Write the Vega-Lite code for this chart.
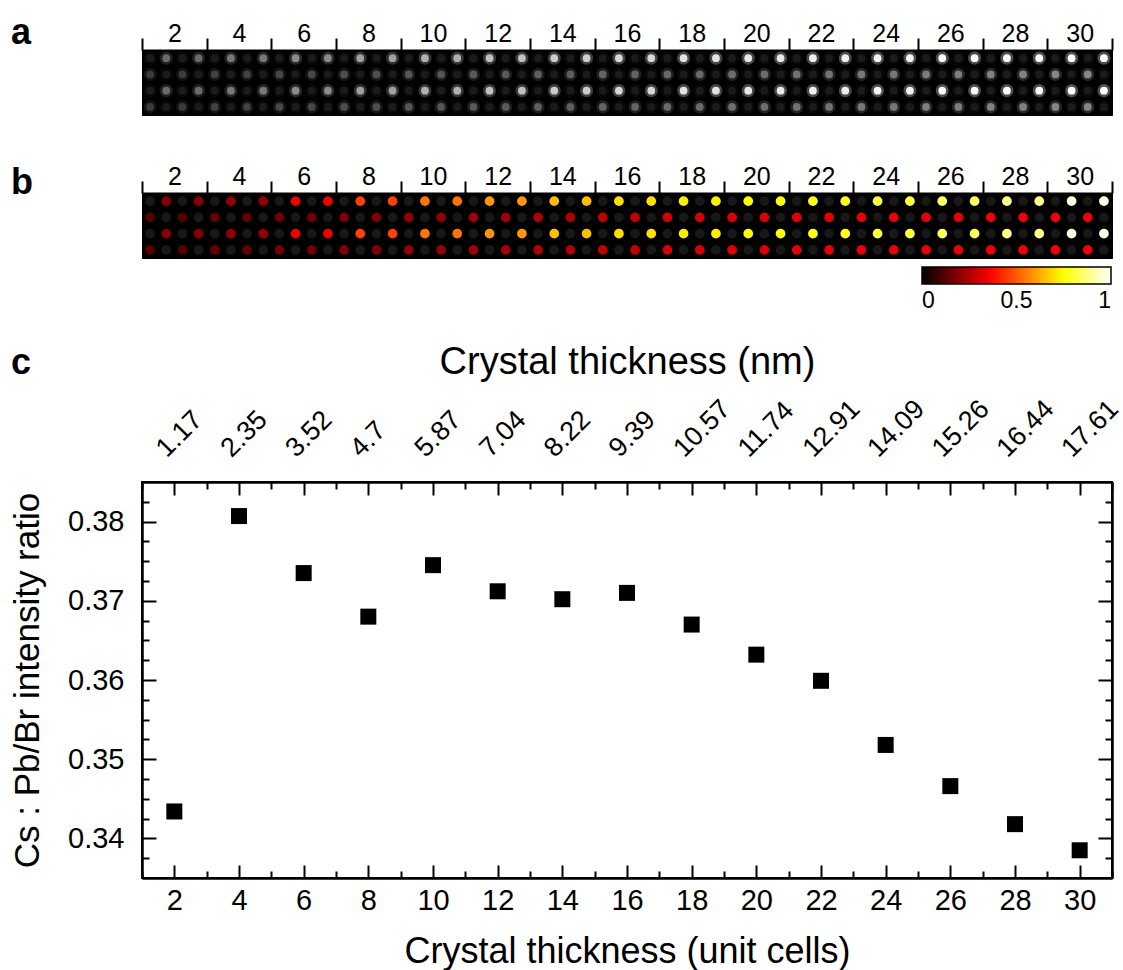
{
"$schema": "https://vega.github.io/schema/vega-lite/v6.json",
"padding": {"left": 9, "top": 14, "right": 5, "bottom": 5},
"background": "white",
"bounds": "flush",
"spacing": 78,
"config": {
  "font": "Liberation Sans",
  "view": {"stroke": null},
  "axis": {"domainColor": "black", "domainWidth": 2, "tickColor": "black", "tickWidth": 2, "labelColor": "black", "titleColor": "black", "grid": false, "labelFont": "Liberation Sans", "titleFont": "Liberation Sans", "titleFontWeight": "normal", "labelFlush": false, "labelOverlap": false},
  "title": {"font": "Liberation Sans", "fontSize": 36, "fontWeight": "bold", "anchor": "start", "frame": "group", "color": "black", "offset": 0},
  "legend": {"labelFont": "Liberation Sans"}
},
"resolve": {"scale": {"color": "independent"}, "legend": {"color": "independent"}},
"datasets": {
"ratio": [
{"n":2,"r":0.3434},{"n":4,"r":0.3807},{"n":6,"r":0.3735},{"n":8,"r":0.3680},{"n":10,"r":0.3745},{"n":12,"r":0.3712},{"n":14,"r":0.3702},{"n":16,"r":0.3710},{"n":18,"r":0.3670},{"n":20,"r":0.3632},{"n":22,"r":0.3599},{"n":24,"r":0.3518},{"n":26,"r":0.3466},{"n":28,"r":0.3418},{"n":30,"r":0.3385}
],
"strip": [
{"x":1.25,"y":1,"t":"D","a":0.1},{"x":1.75,"y":1,"t":"P","a":0.45,"b":0.19},{"x":2.25,"y":1,"t":"D","a":0.1},{"x":2.75,"y":1,"t":"P","a":0.45,"b":0.19},
{"x":1.25,"y":2,"t":"C","a":0.25,"b":0.12},{"x":1.75,"y":2,"t":"D","a":0.1},{"x":2.25,"y":2,"t":"C","a":0.25,"b":0.12},{"x":2.75,"y":2,"t":"D","a":0.1},
{"x":1.25,"y":3,"t":"D","a":0.1},{"x":1.75,"y":3,"t":"P","a":0.45,"b":0.19},{"x":2.25,"y":3,"t":"D","a":0.1},{"x":2.75,"y":3,"t":"P","a":0.45,"b":0.19},
{"x":1.25,"y":4,"t":"C","a":0.25,"b":0.12},{"x":1.75,"y":4,"t":"D","a":0.1},{"x":2.25,"y":4,"t":"C","a":0.25,"b":0.12},{"x":2.75,"y":4,"t":"D","a":0.1},

{"x":3.25,"y":1,"t":"D","a":0.1},{"x":3.75,"y":1,"t":"P","a":0.5,"b":0.21},{"x":4.25,"y":1,"t":"D","a":0.1},{"x":4.75,"y":1,"t":"P","a":0.5,"b":0.21},
{"x":3.25,"y":2,"t":"C","a":0.28,"b":0.14},{"x":3.75,"y":2,"t":"D","a":0.1},{"x":4.25,"y":2,"t":"C","a":0.28,"b":0.14},{"x":4.75,"y":2,"t":"D","a":0.1},
{"x":3.25,"y":3,"t":"D","a":0.1},{"x":3.75,"y":3,"t":"P","a":0.5,"b":0.21},{"x":4.25,"y":3,"t":"D","a":0.1},{"x":4.75,"y":3,"t":"P","a":0.5,"b":0.21},
{"x":3.25,"y":4,"t":"C","a":0.28,"b":0.14},{"x":3.75,"y":4,"t":"D","a":0.1},{"x":4.25,"y":4,"t":"C","a":0.28,"b":0.14},{"x":4.75,"y":4,"t":"D","a":0.1},

{"x":5.25,"y":1,"t":"D","a":0.1},{"x":5.75,"y":1,"t":"P","a":0.58,"b":0.34},{"x":6.25,"y":1,"t":"D","a":0.1},{"x":6.75,"y":1,"t":"P","a":0.58,"b":0.34},
{"x":5.25,"y":2,"t":"C","a":0.3,"b":0.16},{"x":5.75,"y":2,"t":"D","a":0.1},{"x":6.25,"y":2,"t":"C","a":0.3,"b":0.16},{"x":6.75,"y":2,"t":"D","a":0.1},
{"x":5.25,"y":3,"t":"D","a":0.1},{"x":5.75,"y":3,"t":"P","a":0.58,"b":0.34},{"x":6.25,"y":3,"t":"D","a":0.1},{"x":6.75,"y":3,"t":"P","a":0.58,"b":0.34},
{"x":5.25,"y":4,"t":"C","a":0.3,"b":0.16},{"x":5.75,"y":4,"t":"D","a":0.1},{"x":6.25,"y":4,"t":"C","a":0.3,"b":0.16},{"x":6.75,"y":4,"t":"D","a":0.1},

{"x":7.25,"y":1,"t":"D","a":0.1},{"x":7.75,"y":1,"t":"P","a":0.66,"b":0.46},{"x":8.25,"y":1,"t":"D","a":0.1},{"x":8.75,"y":1,"t":"P","a":0.66,"b":0.46},
{"x":7.25,"y":2,"t":"C","a":0.33,"b":0.18},{"x":7.75,"y":2,"t":"D","a":0.1},{"x":8.25,"y":2,"t":"C","a":0.33,"b":0.18},{"x":8.75,"y":2,"t":"D","a":0.1},
{"x":7.25,"y":3,"t":"D","a":0.1},{"x":7.75,"y":3,"t":"P","a":0.66,"b":0.46},{"x":8.25,"y":3,"t":"D","a":0.1},{"x":8.75,"y":3,"t":"P","a":0.66,"b":0.46},
{"x":7.25,"y":4,"t":"C","a":0.33,"b":0.18},{"x":7.75,"y":4,"t":"D","a":0.1},{"x":8.25,"y":4,"t":"C","a":0.33,"b":0.18},{"x":8.75,"y":4,"t":"D","a":0.1},

{"x":9.25,"y":1,"t":"D","a":0.1},{"x":9.75,"y":1,"t":"P","a":0.72,"b":0.54},{"x":10.25,"y":1,"t":"D","a":0.1},{"x":10.75,"y":1,"t":"P","a":0.72,"b":0.54},
{"x":9.25,"y":2,"t":"C","a":0.36,"b":0.21},{"x":9.75,"y":2,"t":"D","a":0.1},{"x":10.25,"y":2,"t":"C","a":0.36,"b":0.21},{"x":10.75,"y":2,"t":"D","a":0.1},
{"x":9.25,"y":3,"t":"D","a":0.1},{"x":9.75,"y":3,"t":"P","a":0.72,"b":0.54},{"x":10.25,"y":3,"t":"D","a":0.1},{"x":10.75,"y":3,"t":"P","a":0.72,"b":0.54},
{"x":9.25,"y":4,"t":"C","a":0.36,"b":0.21},{"x":9.75,"y":4,"t":"D","a":0.1},{"x":10.25,"y":4,"t":"C","a":0.36,"b":0.21},{"x":10.75,"y":4,"t":"D","a":0.1},

{"x":11.25,"y":1,"t":"D","a":0.1},{"x":11.75,"y":1,"t":"P","a":0.78,"b":0.59},{"x":12.25,"y":1,"t":"D","a":0.1},{"x":12.75,"y":1,"t":"P","a":0.78,"b":0.59},
{"x":11.25,"y":2,"t":"C","a":0.38,"b":0.23},{"x":11.75,"y":2,"t":"D","a":0.1},{"x":12.25,"y":2,"t":"C","a":0.38,"b":0.23},{"x":12.75,"y":2,"t":"D","a":0.1},
{"x":11.25,"y":3,"t":"D","a":0.1},{"x":11.75,"y":3,"t":"P","a":0.78,"b":0.59},{"x":12.25,"y":3,"t":"D","a":0.1},{"x":12.75,"y":3,"t":"P","a":0.78,"b":0.59},
{"x":11.25,"y":4,"t":"C","a":0.38,"b":0.23},{"x":11.75,"y":4,"t":"D","a":0.1},{"x":12.25,"y":4,"t":"C","a":0.38,"b":0.23},{"x":12.75,"y":4,"t":"D","a":0.1},

{"x":13.25,"y":1,"t":"D","a":0.1},{"x":13.75,"y":1,"t":"P","a":0.82,"b":0.65},{"x":14.25,"y":1,"t":"D","a":0.1},{"x":14.75,"y":1,"t":"P","a":0.82,"b":0.65},
{"x":13.25,"y":2,"t":"C","a":0.4,"b":0.25},{"x":13.75,"y":2,"t":"D","a":0.1},{"x":14.25,"y":2,"t":"C","a":0.4,"b":0.25},{"x":14.75,"y":2,"t":"D","a":0.1},
{"x":13.25,"y":3,"t":"D","a":0.1},{"x":13.75,"y":3,"t":"P","a":0.82,"b":0.65},{"x":14.25,"y":3,"t":"D","a":0.1},{"x":14.75,"y":3,"t":"P","a":0.82,"b":0.65},
{"x":13.25,"y":4,"t":"C","a":0.4,"b":0.25},{"x":13.75,"y":4,"t":"D","a":0.1},{"x":14.25,"y":4,"t":"C","a":0.4,"b":0.25},{"x":14.75,"y":4,"t":"D","a":0.1},

{"x":15.25,"y":1,"t":"D","a":0.1},{"x":15.75,"y":1,"t":"P","a":0.86,"b":0.7},{"x":16.25,"y":1,"t":"D","a":0.1},{"x":16.75,"y":1,"t":"P","a":0.86,"b":0.7},
{"x":15.25,"y":2,"t":"C","a":0.42,"b":0.27},{"x":15.75,"y":2,"t":"D","a":0.1},{"x":16.25,"y":2,"t":"C","a":0.42,"b":0.27},{"x":16.75,"y":2,"t":"D","a":0.1},
{"x":15.25,"y":3,"t":"D","a":0.1},{"x":15.75,"y":3,"t":"P","a":0.86,"b":0.7},{"x":16.25,"y":3,"t":"D","a":0.1},{"x":16.75,"y":3,"t":"P","a":0.86,"b":0.7},
{"x":15.25,"y":4,"t":"C","a":0.42,"b":0.27},{"x":15.75,"y":4,"t":"D","a":0.1},{"x":16.25,"y":4,"t":"C","a":0.42,"b":0.27},{"x":16.75,"y":4,"t":"D","a":0.1},

{"x":17.25,"y":1,"t":"D","a":0.1},{"x":17.75,"y":1,"t":"P","a":0.9,"b":0.72},{"x":18.25,"y":1,"t":"D","a":0.1},{"x":18.75,"y":1,"t":"P","a":0.9,"b":0.72},
{"x":17.25,"y":2,"t":"C","a":0.44,"b":0.3},{"x":17.75,"y":2,"t":"D","a":0.1},{"x":18.25,"y":2,"t":"C","a":0.44,"b":0.3},{"x":18.75,"y":2,"t":"D","a":0.1},
{"x":17.25,"y":3,"t":"D","a":0.1},{"x":17.75,"y":3,"t":"P","a":0.9,"b":0.72},{"x":18.25,"y":3,"t":"D","a":0.1},{"x":18.75,"y":3,"t":"P","a":0.9,"b":0.72},
{"x":17.25,"y":4,"t":"C","a":0.44,"b":0.3},{"x":17.75,"y":4,"t":"D","a":0.1},{"x":18.25,"y":4,"t":"C","a":0.44,"b":0.3},{"x":18.75,"y":4,"t":"D","a":0.1},

{"x":19.25,"y":1,"t":"D","a":0.1},{"x":19.75,"y":1,"t":"P","a":0.92,"b":0.75},{"x":20.25,"y":1,"t":"D","a":0.1},{"x":20.75,"y":1,"t":"P","a":0.92,"b":0.75},
{"x":19.25,"y":2,"t":"C","a":0.46,"b":0.31},{"x":19.75,"y":2,"t":"D","a":0.1},{"x":20.25,"y":2,"t":"C","a":0.46,"b":0.31},{"x":20.75,"y":2,"t":"D","a":0.1},
{"x":19.25,"y":3,"t":"D","a":0.1},{"x":19.75,"y":3,"t":"P","a":0.92,"b":0.75},{"x":20.25,"y":3,"t":"D","a":0.1},{"x":20.75,"y":3,"t":"P","a":0.92,"b":0.75},
{"x":19.25,"y":4,"t":"C","a":0.46,"b":0.31},{"x":19.75,"y":4,"t":"D","a":0.1},{"x":20.25,"y":4,"t":"C","a":0.46,"b":0.31},{"x":20.75,"y":4,"t":"D","a":0.1},

{"x":21.25,"y":1,"t":"D","a":0.1},{"x":21.75,"y":1,"t":"P","a":0.94,"b":0.77},{"x":22.25,"y":1,"t":"D","a":0.1},{"x":22.75,"y":1,"t":"P","a":0.94,"b":0.77},
{"x":21.25,"y":2,"t":"C","a":0.48,"b":0.32},{"x":21.75,"y":2,"t":"D","a":0.1},{"x":22.25,"y":2,"t":"C","a":0.48,"b":0.32},{"x":22.75,"y":2,"t":"D","a":0.1},
{"x":21.25,"y":3,"t":"D","a":0.1},{"x":21.75,"y":3,"t":"P","a":0.94,"b":0.77},{"x":22.25,"y":3,"t":"D","a":0.1},{"x":22.75,"y":3,"t":"P","a":0.94,"b":0.77},
{"x":21.25,"y":4,"t":"C","a":0.48,"b":0.32},{"x":21.75,"y":4,"t":"D","a":0.1},{"x":22.25,"y":4,"t":"C","a":0.48,"b":0.32},{"x":22.75,"y":4,"t":"D","a":0.1},

{"x":23.25,"y":1,"t":"D","a":0.1},{"x":23.75,"y":1,"t":"P","a":0.96,"b":0.81},{"x":24.25,"y":1,"t":"D","a":0.1},{"x":24.75,"y":1,"t":"P","a":0.96,"b":0.81},
{"x":23.25,"y":2,"t":"C","a":0.5,"b":0.33},{"x":23.75,"y":2,"t":"D","a":0.1},{"x":24.25,"y":2,"t":"C","a":0.5,"b":0.33},{"x":24.75,"y":2,"t":"D","a":0.1},
{"x":23.25,"y":3,"t":"D","a":0.1},{"x":23.75,"y":3,"t":"P","a":0.96,"b":0.81},{"x":24.25,"y":3,"t":"D","a":0.1},{"x":24.75,"y":3,"t":"P","a":0.96,"b":0.81},
{"x":23.25,"y":4,"t":"C","a":0.5,"b":0.33},{"x":23.75,"y":4,"t":"D","a":0.1},{"x":24.25,"y":4,"t":"C","a":0.5,"b":0.33},{"x":24.75,"y":4,"t":"D","a":0.1},

{"x":25.25,"y":1,"t":"D","a":0.1},{"x":25.75,"y":1,"t":"P","a":0.98,"b":0.84},{"x":26.25,"y":1,"t":"D","a":0.1},{"x":26.75,"y":1,"t":"P","a":0.98,"b":0.84},
{"x":25.25,"y":2,"t":"C","a":0.52,"b":0.33},{"x":25.75,"y":2,"t":"D","a":0.1},{"x":26.25,"y":2,"t":"C","a":0.52,"b":0.33},{"x":26.75,"y":2,"t":"D","a":0.1},
{"x":25.25,"y":3,"t":"D","a":0.1},{"x":25.75,"y":3,"t":"P","a":0.98,"b":0.84},{"x":26.25,"y":3,"t":"D","a":0.1},{"x":26.75,"y":3,"t":"P","a":0.98,"b":0.84},
{"x":25.25,"y":4,"t":"C","a":0.52,"b":0.33},{"x":25.75,"y":4,"t":"D","a":0.1},{"x":26.25,"y":4,"t":"C","a":0.52,"b":0.33},{"x":26.75,"y":4,"t":"D","a":0.1},

{"x":27.25,"y":1,"t":"D","a":0.1},{"x":27.75,"y":1,"t":"P","a":0.99,"b":0.88},{"x":28.25,"y":1,"t":"D","a":0.1},{"x":28.75,"y":1,"t":"P","a":0.99,"b":0.88},
{"x":27.25,"y":2,"t":"C","a":0.54,"b":0.34},{"x":27.75,"y":2,"t":"D","a":0.1},{"x":28.25,"y":2,"t":"C","a":0.54,"b":0.34},{"x":28.75,"y":2,"t":"D","a":0.1},
{"x":27.25,"y":3,"t":"D","a":0.1},{"x":27.75,"y":3,"t":"P","a":0.99,"b":0.88},{"x":28.25,"y":3,"t":"D","a":0.1},{"x":28.75,"y":3,"t":"P","a":0.99,"b":0.88},
{"x":27.25,"y":4,"t":"C","a":0.54,"b":0.34},{"x":27.75,"y":4,"t":"D","a":0.1},{"x":28.25,"y":4,"t":"C","a":0.54,"b":0.34},{"x":28.75,"y":4,"t":"D","a":0.1},

{"x":29.25,"y":1,"t":"D","a":0.1},{"x":29.75,"y":1,"t":"P","a":1.0,"b":0.97},{"x":30.25,"y":1,"t":"D","a":0.1},{"x":30.75,"y":1,"t":"P","a":1.0,"b":0.97},
{"x":29.25,"y":2,"t":"C","a":0.56,"b":0.34},{"x":29.75,"y":2,"t":"D","a":0.1},{"x":30.25,"y":2,"t":"C","a":0.56,"b":0.34},{"x":30.75,"y":2,"t":"D","a":0.1},
{"x":29.25,"y":3,"t":"D","a":0.1},{"x":29.75,"y":3,"t":"P","a":1.0,"b":0.97},{"x":30.25,"y":3,"t":"D","a":0.1},{"x":30.75,"y":3,"t":"P","a":1.0,"b":0.97},
{"x":29.25,"y":4,"t":"C","a":0.56,"b":0.34},{"x":29.75,"y":4,"t":"D","a":0.1},{"x":30.25,"y":4,"t":"C","a":0.56,"b":0.34},{"x":30.75,"y":4,"t":"D","a":0.1}
]
},
"vconcat": [
{
  "width": 970, "height": 65,
  "title": {"text": "a", "dx": -131, "dy": 35},
  "view": {"fill": "black", "stroke": "black"},
  "data": {"name": "strip"},
  "resolve": {"axis": {"x": "independent"}},
  "layer": [
    {"mark": {"type": "circle", "size": 170, "opacity": 0.3},
     "encoding": {
       "x": {"field": "x", "type": "quantitative", "scale": {"domain": [1, 31], "nice": false, "zero": false},
             "axis": {"orient": "top", "values": [2,4,6,8,10,12,14,16,18,20,22,24,26,28,30], "ticks": false, "domain": false, "labelFontSize": 25, "labelPadding": 4, "title": null}},
       "y": {"field": "y", "type": "quantitative", "scale": {"domain": [0.5, 4.5], "reverse": true, "nice": false, "zero": false}, "axis": null},
       "color": {"field": "a", "type": "quantitative", "scale": {"domain": [0, 1], "range": ["#000000", "#ffffff"]}, "legend": null}
     }},
    {"mark": {"type": "circle", "size": 60, "opacity": 1},
     "encoding": {
       "x": {"field": "x", "type": "quantitative", "scale": {"domain": [1, 31], "nice": false, "zero": false},
             "axis": {"orient": "top", "values": [1,3,5,7,9,11,13,15,17,19,21,23,25,27,29,31], "labels": false, "tickSize": 12, "title": null}},
       "y": {"field": "y", "type": "quantitative", "scale": {"domain": [0.5, 4.5], "reverse": true, "nice": false, "zero": false}, "axis": null},
       "color": {"field": "a", "type": "quantitative", "scale": {"domain": [0, 1], "range": ["#000000", "#ffffff"]}, "legend": null}
     }}
  ]
},
{
  "width": 970, "height": 65,
  "title": {"text": "b", "dx": -131, "dy": 42},
  "view": {"fill": "black", "stroke": "black"},
  "data": {"name": "strip"},
  "resolve": {"axis": {"x": "independent"}},
  "layer": [
    {"transform": [{"filter": "datum.t == 'D'"}],
     "mark": {"type": "circle", "size": 95, "opacity": 1, "color": "#181818"},
     "encoding": {
       "x": {"field": "x", "type": "quantitative", "scale": {"domain": [1, 31], "nice": false, "zero": false},
             "axis": {"orient": "top", "values": [1,3,5,7,9,11,13,15,17,19,21,23,25,27,29,31], "labels": false, "tickSize": 12, "title": null}},
       "y": {"field": "y", "type": "quantitative", "scale": {"domain": [0.5, 4.5], "reverse": true, "nice": false, "zero": false}, "axis": null}
     }},
    {"transform": [{"filter": "datum.t != 'D'"}],
     "mark": {"type": "circle", "size": 95, "opacity": 1},
     "encoding": {
       "x": {"field": "x", "type": "quantitative", "scale": {"domain": [1, 31], "nice": false, "zero": false},
             "axis": {"orient": "top", "values": [2,4,6,8,10,12,14,16,18,20,22,24,26,28,30], "ticks": false, "domain": false, "labelFontSize": 25, "labelPadding": 4, "title": null}},
       "y": {"field": "y", "type": "quantitative", "scale": {"domain": [0.5, 4.5], "reverse": true, "nice": false, "zero": false}, "axis": null},
       "color": {"field": "b", "type": "quantitative",
                 "scale": {"domain": [0, 0.365, 0.746, 1], "range": ["#000000", "#ff0000", "#ffff00", "#ffffff"], "interpolate": "rgb"},
                 "legend": {"orient": "none", "legendX": 780, "legendY": 74, "direction": "horizontal", "gradientLength": 189, "gradientThickness": 17, "title": null, "values": [0, 0.5, 1], "format": "~g", "labelFontSize": 23, "labelOffset": 6, "labelColor": "black", "gradientStrokeColor": "black", "gradientStrokeWidth": 1.5, "padding": 0}}
     }}
  ]
},
{
  "width": 970, "height": 68,
  "data": {"values": []},
  "mark": {"type": "point", "opacity": 0},
  "encoding": {}
},
{
  "width": 970, "height": 396,
  "title": {"text": "c", "dx": -131, "dy": 42},
  "view": {"stroke": "black", "strokeWidth": 2},
  "data": {"name": "ratio"},
  "resolve": {"axis": {"x": "independent", "y": "independent"}},
  "layer": [
    {"mark": {"type": "square", "size": 256, "color": "black", "opacity": 1},
     "encoding": {
       "x": {"field": "n", "type": "quantitative", "scale": {"domain": [1, 31], "nice": false, "zero": false},
             "axis": {"orient": "bottom", "values": [2,4,6,8,10,12,14,16,18,20,22,24,26,28,30], "tickSize": -13, "labelPadding": 21, "labelFontSize": 29, "title": "Crystal thickness (unit cells)", "titleFontSize": 36, "titlePadding": 19}},
       "y": {"field": "r", "type": "quantitative", "scale": {"domain": [0.335, 0.385], "nice": false, "zero": false},
             "axis": {"orient": "left", "values": [0.34, 0.35, 0.36, 0.37, 0.38], "format": ".2f", "tickSize": -14, "labelPadding": 32, "labelFontSize": 29, "title": "Cs : Pb/Br intensity ratio", "titleFontSize": 35, "titlePadding": 22}}
     }},
    {"mark": {"type": "square", "size": 256, "opacity": 0},
     "encoding": {
       "x": {"field": "n", "type": "quantitative", "scale": {"domain": [1, 31], "nice": false, "zero": false},
             "axis": {"orient": "bottom", "values": [1,3,5,7,9,11,13,15,17,19,21,23,25,27,29,31], "tickSize": -7, "labels": false, "title": null}},
       "y": {"field": "r", "type": "quantitative", "scale": {"domain": [0.335, 0.385], "nice": false, "zero": false},
             "axis": {"orient": "left", "values": [0.3375,0.3425,0.345,0.3475,0.3525,0.355,0.3575,0.3625,0.365,0.3675,0.3725,0.375,0.3775,0.3825], "tickSize": -7, "labels": false, "title": null}}
     }},
    {"mark": {"type": "square", "size": 256, "opacity": 0},
     "encoding": {
       "x": {"field": "n", "type": "quantitative", "scale": {"domain": [1, 31], "nice": false, "zero": false},
             "axis": {"orient": "top", "values": [2,4,6,8,10,12,14,16,18,20,22,24,26,28,30], "tickSize": -13, "labelExpr": "format(datum.value * 0.587, '.2~f')", "labelAngle": -45, "labelAlign": "left", "labelBaseline": "alphabetic", "labelOffset": -8, "labelPadding": 37, "labelFontSize": 27, "title": "Crystal thickness (nm)", "titleFontSize": 38, "titlePadding": 13}},
       "y": {"field": "r", "type": "quantitative", "scale": {"domain": [0.335, 0.385], "nice": false, "zero": false},
             "axis": {"orient": "right", "values": [0.34, 0.35, 0.36, 0.37, 0.38], "tickSize": -14, "labels": false, "title": null}}
     }},
    {"mark": {"type": "square", "size": 256, "opacity": 0},
     "encoding": {
       "x": {"field": "n", "type": "quantitative", "scale": {"domain": [1, 31], "nice": false, "zero": false},
             "axis": {"orient": "top", "values": [1,3,5,7,9,11,13,15,17,19,21,23,25,27,29,31], "tickSize": -7, "labels": false, "title": null}},
       "y": {"field": "r", "type": "quantitative", "scale": {"domain": [0.335, 0.385], "nice": false, "zero": false},
             "axis": {"orient": "right", "values": [0.3375,0.3425,0.345,0.3475,0.3525,0.355,0.3575,0.3625,0.365,0.3675,0.3725,0.375,0.3775,0.3825], "tickSize": -7, "labels": false, "title": null}}
     }}
  ]
}
]
}
